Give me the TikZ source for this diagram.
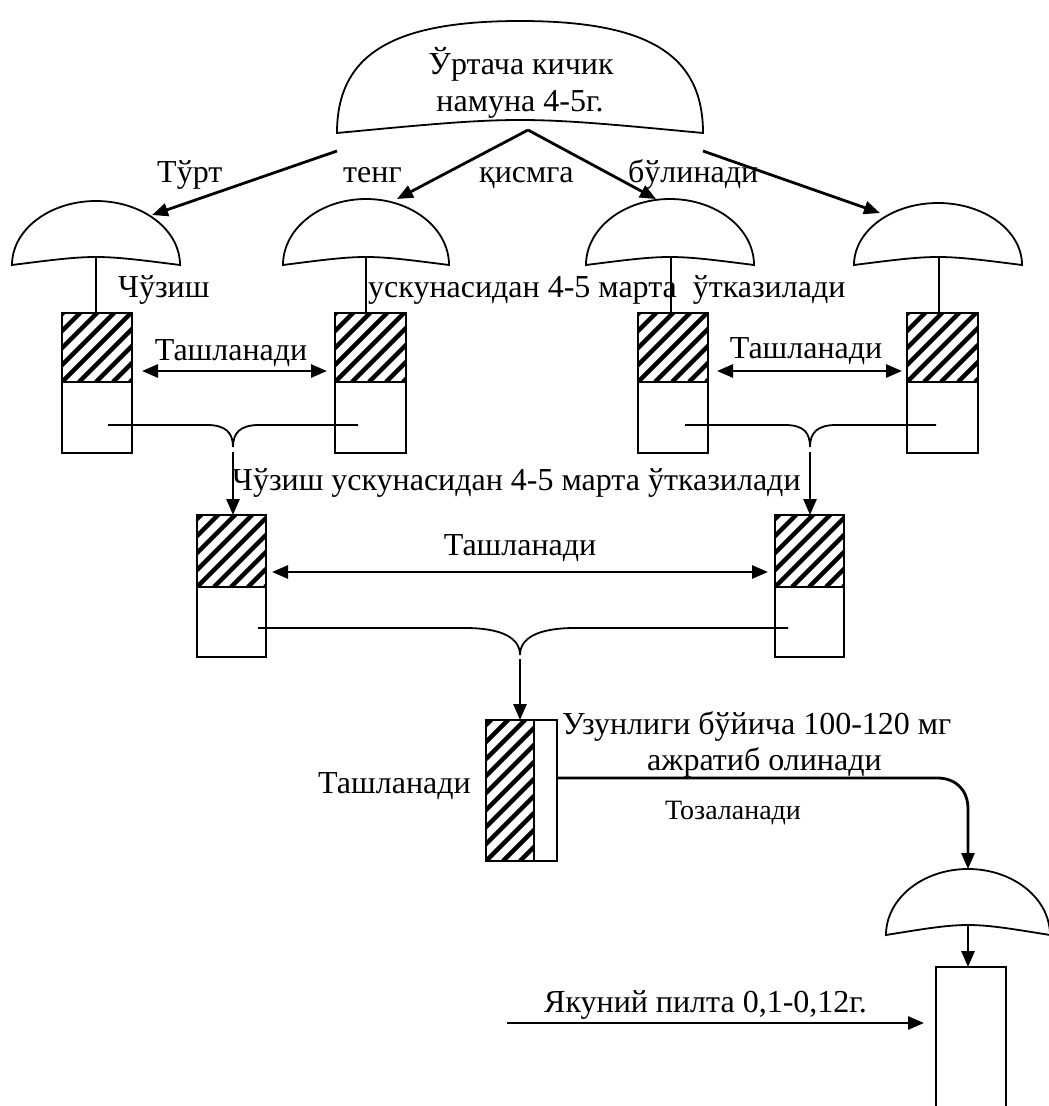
\documentclass[tikz,border=0pt]{standalone}
\usepackage{fontspec}
\setmainfont{Liberation Serif}
\usetikzlibrary{arrows.meta}

% dome: centre x, top y, half width, corner y, bottom-middle y, control factor
\newcommand\mydome[6]{%
  \draw[thinline] ({#1-#3},#4)
    .. controls ({#1-#3},{#4-#6*(#4-#2)}) and ({#1-#6*#3},#2) .. (#1,#2)
    .. controls ({#1+#6*#3},#2) and ({#1+#3},{#4-#6*(#4-#2)}) .. ({#1+#3},#4)
    .. controls (#1,{(4*#5-#4)/3}) .. ({#1-#3},#4) -- cycle;}
% hatched rectangle: x1 y1 x2 y2
\newcommand\hatchrect[4]{%
  \begin{scope}
    \clip (#1,#2) rectangle (#3,#4);
    \foreach \k in {-170,-153,...,100}
      \draw[line width=4.5pt] ({#1+\k},#4) -- ++(250,-250);
  \end{scope}}
% two-part box: x1 y1 x2 y2 ysplit
\newcommand\splitbox[5]{%
  \hatchrect{#1}{#2}{#3}{#5}
  \draw[thinline] (#1,#2) rectangle (#3,#4);
  \draw[thinline] (#1,#5) -- (#3,#5);}

\begin{document}
\begin{tikzpicture}[x=1pt,y=-1pt,
  font=\fontsize{32}{37}\selectfont,
  thinline/.style={line width=1.8pt},
  arr/.style={line width=2.8pt,-{Triangle[length=16pt,width=13pt]}},
  darr/.style={line width=2.8pt,{Triangle[length=16pt,width=13pt]}-{Triangle[length=16pt,width=13pt]}},
  lbl/.style={inner sep=0pt,anchor=base west},
  clbl/.style={inner sep=0pt,anchor=base}]
\useasboundingbox (0,0) rectangle (1049,1106);

% ---------- domes ----------
\mydome{520}{21}{183}{133}{120}{0.7}
\mydome{96}{201}{84}{265}{257}{0.5523}
\mydome{366}{199}{83}{265}{257}{0.5523}
\mydome{670}{199}{84}{265}{257}{0.5523}
\mydome{938}{203}{84}{265}{257}{0.5523}
\mydome{968}{869}{82}{935}{925}{0.5523}

\node[clbl] (t0a) at (521,74) {Ўртача кичик};
\node[clbl] (t0b) at (520,111) {намуна 4-5г.};

% ---------- boxes ----------
\splitbox{62}{313}{132}{453}{382}
\splitbox{335}{313}{406}{453}{382}
\splitbox{638}{313}{708}{453}{382}
\splitbox{907}{313}{978}{453}{382}
\splitbox{197}{515}{266}{657}{587}
\splitbox{775}{515}{844}{657}{587}
\hatchrect{486}{720}{534}{861}
\draw[thinline] (486,720) rectangle (557,861);
\draw[thinline] (534,720) -- (534,861);
\draw[thinline] (936,1115) -- (936,967) -- (1006,967) -- (1006,1115);

% ---------- named points ----------
\coordinate (s0L) at (337,151);
\coordinate (s0M) at (528,130);
\coordinate (s0R) at (703,151);
\coordinate (d1) at (152,215);
\coordinate (d2) at (397,199);
\coordinate (d3) at (656,199);
\coordinate (d4) at (880,213);
\coordinate (m1) at (96,257);   \coordinate (b1) at (96,313);
\coordinate (m2) at (366,257);  \coordinate (b2) at (366,313);
\coordinate (m3) at (671,257);  \coordinate (b7) at (671,313);
\coordinate (m4) at (939,257);  \coordinate (b8) at (939,313);
\coordinate (b3t) at (233,515);
\coordinate (b4t) at (810,515);
\coordinate (b5t) at (520,720);
\coordinate (b5r) at (557,778);
\coordinate (d5t) at (968,869);
\coordinate (d5b) at (968,925);
\coordinate (b6t) at (968,967);
\coordinate (inA) at (507,1023);
\coordinate (inB) at (924,1023);

% ---------- arrows from the top dome ----------
\draw[arr] (s0L) -- (d1);
\draw[arr] (s0M) -- (d2);
\draw[arr] (s0M) -- (d3);
\draw[arr] (s0R) -- (d4);

% stems
\draw[thinline] (m1) -- (b1);
\draw[thinline] (m2) -- (b2);
\draw[thinline] (m3) -- (b7);
\draw[thinline] (m4) -- (b8);

% double arrows
\draw[darr] (142,371) -- (327,371);
\draw[darr] (717,371) -- (902,371);
\draw[darr] (272,572) -- (768,572);

% merging lines
\draw[thinline] (108,425) -- (207,425) .. controls (226,425) and (233,433) .. (233,447)
   .. controls (233,433) and (240,425) .. (259,425) -- (358,425);
\draw[thinline] (685,425) -- (785,425) .. controls (804,425) and (810,433) .. (810,447)
   .. controls (810,433) and (817,425) .. (836,425) -- (936,425);
\draw[thinline] (258,628) -- (465,628) .. controls (502,628) and (520,638) .. (520,655)
   .. controls (520,638) and (538,628) .. (575,628) -- (788,628);
\draw[arr] (233,452) -- (b3t);
\draw[arr] (810,452) -- (b4t);
\draw[arr] (520,659) -- (b5t);

% bottom part
\draw[arr] (b5r) -- (937,778) .. controls (956,778) and (968,790) .. (968,809) -- (d5t);
\draw[arr] (d5b) -- (b6t);
\draw[arr] (inA) -- (inB);

% ---------- labels ----------
\node[lbl] (l1) at (157,182) {Тўрт};
\node[lbl] (l2) at (343,182) {тенг};
\node[lbl] (l3) at (479,182) {қисмга};
\node[lbl] (l4) at (628,182) {бўлинади};
\node[lbl] (l5) at (118,297) {Чўзиш};
\node[lbl] (l6) at (368,297) {ускунасидан 4-5 марта\ \ ўтказилади};
\node[clbl] (l7) at (231,360) {Ташланади};
\node[clbl] (l8) at (806,358) {Ташланади};
\node[lbl] (l9) at (232,490) {Чўзиш ускунасидан 4-5 марта ўтказилади};
\node[clbl] (l10) at (520,555) {Ташланади};
\node[lbl] (l11) at (562,734) {Узунлиги бўйича 100-120 мг};
\node[lbl] (l12) at (647,770) {ажратиб олинади};
\node[lbl] (l13) at (318,793) {Ташланади};
\node[lbl,font=\fontsize{28}{33}\selectfont] (l14) at (665,819) {Тозаланади};
\node[lbl] (l15) at (544,1012) {Якуний пилта 0,1-0,12г.};
\end{tikzpicture}
\end{document}
